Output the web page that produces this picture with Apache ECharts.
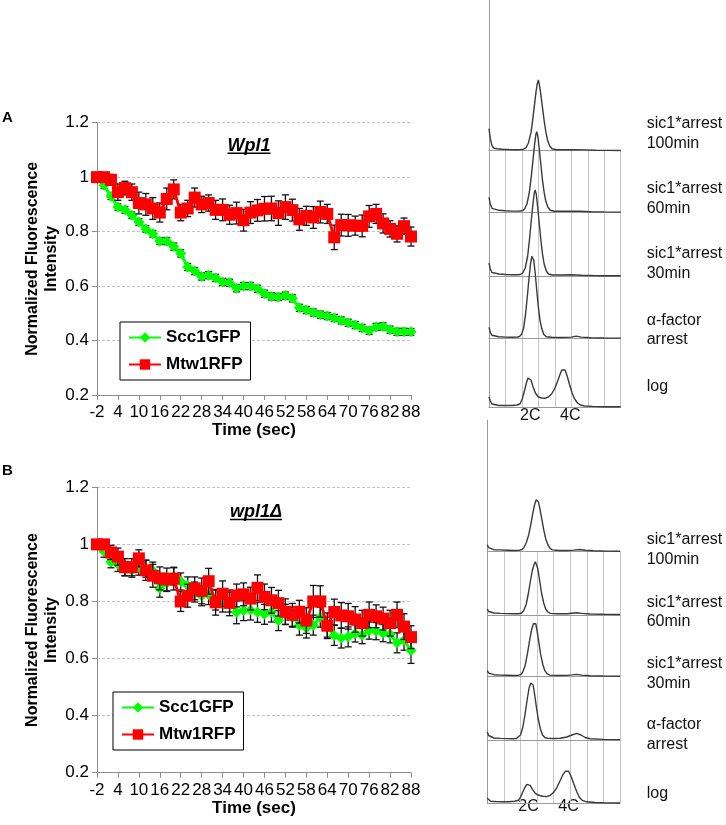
<!DOCTYPE html>
<html><head><meta charset="utf-8">
<script src="https://cdn.jsdelivr.net/npm/echarts@6/dist/echarts.min.js"></script>
<style>html,body{margin:0;padding:0;background:#fff}#c{width:726px;height:825px}</style>
</head><body><div id="c"></div>
<script>
const FONT = "'Liberation Sans', Arial, sans-serif";

// ---- time course data ----
const times = [-2,0,2,4,6,8,10,12,14,16,18,20,22,24,26,28,30,32,34,36,38,40,42,44,46,48,50,52,54,56,58,60,62,64,66,68,70,72,74,76,78,80,82,84,86,88];
const yTicks = {min:0.2, max:1.2, step:0.2};
const seriesNames = ['Scc1GFP','Mtw1RFP'];

const A_gfp = [1.0,0.97,0.93,0.89,0.88,0.86,0.835,0.81,0.792,0.765, 0.765,0.745,0.72,0.67,0.655,0.635,0.64,0.63,0.615,0.612, 0.592,0.6,0.6,0.59,0.572,0.562,0.56,0.565,0.555,0.52, 0.512,0.503,0.495,0.49,0.483,0.474,0.465,0.457,0.446,0.436, 0.45,0.452,0.44,0.432,0.432,0.432];
const A_gfp_err = [0.005,0.012,0.012,0.012,0.012,0.012,0.012,0.012,0.012,0.012, 0.013,0.013,0.013,0.013,0.013,0.013,0.013,0.013,0.013,0.013, 0.013,0.013,0.013,0.013,0.013,0.013,0.013,0.013,0.013,0.013, 0.013,0.013,0.013,0.013,0.013,0.013,0.013,0.013,0.013,0.013, 0.013,0.013,0.013,0.013,0.013,0.012];
const A_rfp = [1.0,1.0,0.99,0.945,0.96,0.945,0.905,0.9,0.885,0.87, 0.92,0.955,0.87,0.885,0.925,0.9,0.905,0.88,0.88,0.862, 0.868,0.842,0.87,0.878,0.884,0.885,0.868,0.89,0.879,0.845, 0.858,0.852,0.872,0.865,0.779,0.824,0.823,0.822,0.821,0.856, 0.865,0.83,0.81,0.792,0.82,0.782];
const A_rfp_err = [0.01,0.015,0.02,0.03,0.025,0.03,0.04,0.04,0.04,0.035, 0.04,0.035,0.03,0.03,0.035,0.03,0.03,0.035,0.04,0.035, 0.04,0.04,0.04,0.04,0.045,0.045,0.045,0.045,0.04,0.04, 0.035,0.04,0.04,0.035,0.045,0.04,0.04,0.035,0.04,0.04, 0.035,0.035,0.03,0.03,0.03,0.035];

const B_gfp = [1.0,0.975,0.938,0.93,0.915,0.91,0.922,0.915,0.908,0.845, 0.865,0.888,0.87,0.856,0.833,0.82,0.824,0.805,0.798,0.798, 0.762,0.768,0.77,0.762,0.755,0.763,0.733,0.755,0.745,0.717, 0.707,0.717,0.745,0.71,0.681,0.672,0.676,0.688,0.682,0.698, 0.696,0.689,0.685,0.655,0.664,0.628];
const B_gfp_err = [0.01,0.02,0.02,0.025,0.025,0.025,0.03,0.03,0.03,0.03, 0.03,0.03,0.03,0.03,0.035,0.035,0.035,0.035,0.035,0.035, 0.04,0.035,0.035,0.035,0.035,0.035,0.035,0.035,0.035,0.035, 0.035,0.035,0.035,0.035,0.035,0.035,0.035,0.03,0.03,0.03, 0.03,0.03,0.03,0.035,0.035,0.045];
const B_rfp = [1.0,1.0,0.972,0.957,0.92,0.92,0.951,0.909,0.89,0.881, 0.877,0.88,0.8,0.82,0.846,0.837,0.871,0.797,0.827,0.795, 0.821,0.825,0.81,0.848,0.816,0.804,0.794,0.764,0.753,0.764, 0.733,0.8,0.8,0.715,0.763,0.751,0.748,0.737,0.724,0.753, 0.748,0.74,0.724,0.753,0.712,0.675];
const B_rfp_err = [0.01,0.015,0.025,0.03,0.03,0.03,0.03,0.035,0.04,0.04, 0.04,0.04,0.035,0.04,0.04,0.045,0.045,0.045,0.045,0.045, 0.04,0.04,0.04,0.045,0.045,0.045,0.045,0.045,0.04,0.04, 0.045,0.056,0.055,0.045,0.045,0.045,0.045,0.045,0.045,0.045, 0.04,0.04,0.045,0.045,0.045,0.04];

// ---- flow cytometry histograms: [channel (grid columns), count height] ----
const histLabels = ['sic1*arrest\n100min','sic1*arrest\n60min','sic1*arrest\n30min','\u03b1-factor\narrest','log'];
const peakLabels = ['2C','4C'];
const HA_100 = [[0,22],[0.08,12],[0.18,5],[0.3,2.5],[0.5,2],[0.8,1.5],[1.2,1.2],[1.6,1],[1.9,1.2],[2.1,1.5],[2.25,3],[2.4,8],[2.55,18],[2.65,30],[2.75,44],[2.85,58],[2.93,67],[3.0,70.7],[3.07,65],[3.15,56],[3.25,43],[3.35,30],[3.45,19],[3.55,11],[3.68,5],[3.82,2],[4.1,1],[4.6,1],[5.2,1],[5.8,0.8],[6.5,0.5],[7.2,0.3],[8,0.2]];
const HA_60 = [[0,15],[0.08,8],[0.18,4],[0.3,2.5],[0.6,2],[1,1.5],[1.4,1.2],[1.8,1.2],[2.0,1.5],[2.15,3],[2.3,8],[2.45,20],[2.57,36],[2.67,52],[2.77,68],[2.85,78],[2.9,80.6],[2.97,76],[3.05,64],[3.15,48],[3.25,32],[3.35,20],[3.45,11],[3.58,5],[3.72,2],[3.95,1],[4.5,1],[5.0,1.2],[5.5,1],[6.2,0.6],[7,0.4],[8,0.2]];
const HA_30 = [[0,13],[0.08,7],[0.18,3.5],[0.3,2.5],[0.6,2],[1,1.5],[1.4,1.2],[1.7,1.2],[1.9,1.5],[2.05,3],[2.2,8],[2.35,20],[2.47,38],[2.57,56],[2.67,72],[2.75,83],[2.8,86],[2.87,82],[2.95,70],[3.05,53],[3.15,36],[3.25,22],[3.35,12],[3.48,5],[3.62,2],[3.85,1],[4.4,1],[5.0,1.2],[5.6,0.8],[6.3,0.5],[7,0.3],[8,0.2]];
const HA_alpha = [[0,11],[0.08,6],[0.18,3],[0.3,2],[0.6,1.5],[1,1.2],[1.4,1],[1.7,1.2],[1.85,1.8],[1.98,4],[2.1,10],[2.22,24],[2.33,42],[2.43,60],[2.52,74],[2.6,82],[2.65,83.3],[2.72,78],[2.8,66],[2.9,48],[3.0,31],[3.1,18],[3.2,10],[3.32,4],[3.48,1.5],[3.8,1],[4.4,0.8],[5.0,1.2],[5.3,2.2],[5.6,1.2],[6.2,0.6],[7,0.3],[8,0.2]];
const HA_log = [[0,10],[0.08,6],[0.18,3],[0.3,2],[0.6,1.5],[1,1.5],[1.4,1.5],[1.7,2],[1.88,3],[2.02,8],[2.15,16],[2.27,24],[2.37,29],[2.45,30.3],[2.55,27],[2.68,20],[2.82,14],[3.0,10],[3.2,9],[3.4,8.7],[3.6,10],[3.8,13],[3.98,18],[4.15,25],[4.3,32],[4.42,37],[4.52,38.7],[4.62,37],[4.75,31],[4.9,22],[5.05,14],[5.2,8],[5.38,4],[5.55,2],[5.8,1],[6.3,0.6],[7,0.3],[8,0.2]];
const HB_100 = [[0,7],[0.08,4],[0.2,2.5],[0.4,2],[0.8,1.8],[1.2,1.5],[1.6,1.2],[1.9,1.3],[2.07,2],[2.2,4],[2.35,9],[2.5,17],[2.62,27],[2.74,38],[2.85,47],[2.95,52],[3.01,53.4],[3.08,50],[3.17,43],[3.28,33],[3.4,22],[3.52,13],[3.65,7],[3.78,3.5],[3.92,1.8],[4.3,1.2],[4.8,1.2],[5.2,1.6],[5.59,2.2],[5.9,1.5],[6.4,1],[7,0.7],[8,0.5]];
const HB_60 = [[0,6],[0.08,3.5],[0.2,2.2],[0.4,2],[0.8,1.6],[1.2,1.4],[1.6,1.2],[1.9,1.3],[2.07,2],[2.2,4.5],[2.35,11],[2.48,22],[2.6,34],[2.72,45],[2.83,51],[2.9,53.3],[2.97,52],[3.05,46],[3.15,35],[3.27,22],[3.4,12],[3.52,6],[3.65,3],[3.8,1.6],[4.2,1.2],[4.8,1.3],[5.1,1.8],[5.39,2.2],[5.7,1.6],[6.2,1],[7,0.7],[8,0.5]];
const HB_30 = [[0,6],[0.08,3.5],[0.2,2.2],[0.4,2],[0.8,1.6],[1.2,1.4],[1.6,1.2],[1.85,1.3],[2.0,2],[2.13,4.5],[2.28,11],[2.42,23],[2.55,36],[2.67,47],[2.78,53],[2.85,55],[2.92,53],[3.0,46],[3.1,35],[3.22,22],[3.35,12],[3.47,6],[3.6,3],[3.75,1.6],[4.2,1.2],[4.8,1.3],[5.1,1.8],[5.39,2.3],[5.7,1.6],[6.2,1],[7,0.7],[8,0.5]];
const HB_alpha = [[0,8],[0.08,4.5],[0.2,2.5],[0.4,2],[0.8,1.6],[1.2,1.4],[1.5,1.3],[1.75,1.5],[1.87,2.2],[2.0,5],[2.13,12],[2.27,25],[2.4,40],[2.52,52],[2.62,57],[2.68,58.3],[2.76,55],[2.85,46],[2.95,34],[3.07,21],[3.2,11],[3.33,5],[3.47,2.5],[3.65,1.6],[4.0,1.5],[4.4,1.8],[4.8,3],[5.1,5],[5.39,6.7],[5.65,5],[5.9,2.5],[6.2,1.2],[7,0.6],[8,0.4]];
const HB_log = [[0,5],[0.08,3],[0.2,2],[0.5,1.8],[0.9,1.6],[1.3,1.6],[1.65,2],[1.87,3],[2.0,6],[2.13,11],[2.27,16],[2.38,19],[2.47,20],[2.58,18],[2.72,14],[2.9,10],[3.1,8],[3.35,7],[3.58,6.7],[3.8,8],[4.0,11],[4.2,16],[4.4,23],[4.57,29],[4.7,32],[4.79,33.3],[4.9,32],[5.05,27],[5.2,20],[5.38,12],[5.55,6],[5.72,3],[5.99,1.5],[6.5,0.8],[7,0.5],[8,0.3]];
const histA = [HA_100, HA_60, HA_30, HA_alpha, HA_log];
const histB = [HB_100, HB_60, HB_30, HB_alpha, HB_log];

// ---- layout ----
const chartLayout = [
  {left:97, top:122.7, width:314, height:272.3, letter:'A', letterY:118, title:'Wpl1', titleX:249, titleY:145.7, legendLeft:120, legendTop:322},
  {left:97, top:487.3, width:314, height:285.4, letter:'B', letterY:471, title:'wpl1\u0394', titleX:256, titleY:512, legendLeft:113, legendTop:692}
];
const histLayout = [
  {left:489, width:131.7, base:[150.7,212.3,276,338.3,407], leftTop:0, rightTop:136, labelY:[133,198.3,263.3,329.7,386.7], peakLabelY:416.7},
  {left:487.3, width:132.7, base:[551.7,615,676.7,740,803.3], leftTop:420, rightTop:531.7, labelY:[549.2,611.7,673.3,734.2,793.3], peakLabelY:808}
];

const grid=[], xAxis=[], yAxis=[], series=[], graphic=[], legend=[];

function errSeries(vals, errs, idx, z){
  return {type:'custom', xAxisIndex:idx, yAxisIndex:idx, z:z, silent:true,
    data: vals.map((v,i)=>[i, v-errs[i], v+errs[i]]),
    renderItem(params, api){
      const x = api.value(0);
      const lo = api.coord([x, api.value(1)]);
      const hi = api.coord([x, api.value(2)]);
      const w = 3.5, st = {stroke:'#111', lineWidth:1.3};
      return {type:'group', children:[
        {type:'line', shape:{x1:lo[0],y1:lo[1],x2:hi[0],y2:hi[1]}, style:st},
        {type:'line', shape:{x1:hi[0]-w,y1:hi[1],x2:hi[0]+w,y2:hi[1]}, style:st},
        {type:'line', shape:{x1:lo[0]-w,y1:lo[1],x2:lo[0]+w,y2:lo[1]}, style:st}
      ]};
    }};
}

const measure = (txt, font) => { const c=document.createElement('canvas').getContext('2d'); c.font=font; return c.measureText(txt).width; };

const panelData = [[A_gfp,A_gfp_err,A_rfp,A_rfp_err],[B_gfp,B_gfp_err,B_rfp,B_rfp_err]];
chartLayout.forEach((L, p) => {
  grid.push({left:L.left, top:L.top, width:L.width, height:L.height});
  xAxis.push({type:'category', gridIndex:p, data:times.map(String), boundaryGap:false,
    name:'Time (sec)', nameLocation:'middle', nameGap:27,
    nameTextStyle:{fontFamily:FONT, fontSize:17, fontWeight:'bold', color:'#000'},
    axisLine:{lineStyle:{color:'#8c8c8c', width:1}},
    axisTick:{interval:2, length:5, lineStyle:{color:'#8c8c8c'}},
    axisLabel:{interval:2, margin:9, fontFamily:FONT, fontSize:17, color:'#000'},
    splitLine:{show:false}});
  yAxis.push({type:'value', gridIndex:p, min:yTicks.min, max:yTicks.max, interval:yTicks.step,
    name:'Normalized Fluorescence\nIntensity', nameLocation:'middle', nameGap:29,
    nameTextStyle:{fontFamily:FONT, fontSize:16, fontWeight:'bold', color:'#000', lineHeight:19},
    axisLine:{show:true, lineStyle:{color:'#8c8c8c'}},
    axisTick:{show:true, length:5, lineStyle:{color:'#8c8c8c'}},
    axisLabel:{margin:8, fontFamily:FONT, fontSize:17, color:'#000', formatter:v=>String(+v.toFixed(1))},
    splitLine:{show:true, lineStyle:{color:'#c4c4c4', type:[3,2], width:1}}});
  const [g, ge, r, re] = panelData[p];
  series.push(errSeries(g, ge, p, 2));
  series.push({name:seriesNames[0], type:'line', xAxisIndex:p, yAxisIndex:p, data:g, z:3,
    showSymbol:true, showAllSymbol:true,
    symbol:'diamond', symbolSize:11, lineStyle:{color:'#00ff00', width:3}, itemStyle:{color:'#00ff00'}});
  series.push(errSeries(r, re, p, 4));
  series.push({name:seriesNames[1], type:'line', xAxisIndex:p, yAxisIndex:p, data:r, z:5,
    showSymbol:true, showAllSymbol:true,
    symbol:'rect', symbolSize:12, lineStyle:{color:'#ff0000', width:3}, itemStyle:{color:'#ff0000'}});
  legend.push({left:L.legendLeft, top:L.legendTop, orient:'vertical', data:seriesNames, selectedMode:false,
    borderColor:'#000', borderWidth:1, backgroundColor:'#fff', padding:[7,8,7,8], itemGap:10,
    itemWidth:32, itemHeight:13, textStyle:{fontFamily:FONT, fontSize:17, fontWeight:'bold', color:'#000'}});
  graphic.push({type:'text', left:2, top:L.letterY-8, style:{text:L.letter, font:'bold 15px '+FONT, fill:'#000'}});
  const tfont = 'italic bold 18px '+FONT;
  const tw = measure(L.title, tfont);
  graphic.push({type:'group', x:L.titleX, y:L.titleY, children:[
    {type:'text', style:{text:L.title, font:tfont, fill:'#000', textAlign:'center', textVerticalAlign:'middle'}},
    {type:'line', shape:{x1:-tw/2, y1:7.5, x2:tw/2, y2:7.5}, style:{stroke:'#000', lineWidth:1.6}}
  ]});
});

const histAll = [histA, histB];
histLayout.forEach((H, p) => {
  H.base.forEach((b, k) => {
    const top = k===0 ? H.leftTop : H.base[k-1];
    const h = b - top;
    const gi = grid.length;
    grid.push({left:H.left, top:top, width:H.width, height:h});
    xAxis.push({type:'value', gridIndex:gi, min:0, max:8, interval:1,
      axisLine:{show:true, onZero:false, lineStyle:{color:'#9a9a9a', width:1}}, axisTick:{show:false}, axisLabel:{show:false},
      splitLine:{show:k>0, lineStyle:{color:'#c8c8c8', width:1}}});
    yAxis.push({type:'value', gridIndex:gi, min:0, max:h,
      axisLine:{show:true, lineStyle:{color:'#9a9a9a', width:1}}, axisTick:{show:false}, axisLabel:{show:false}, splitLine:{show:false}});
    series.push({type:'line', xAxisIndex:gi, yAxisIndex:gi, data:histAll[p][k], showSymbol:false, clip:false, silent:true,
      lineStyle:{color:'#3a3a3a', width:1.4}, z:10});
    graphic.push({type:'text', left:646.7, top:H.labelY[k] - (k<4 ? 19 : 9.5),
      style:{text:histLabels[k], font:'16px '+FONT, fill:'#111', lineHeight:19.5}});
  });
  // right edge of the top frame
  const gi = grid.length;
  grid.push({left:H.left, top:H.rightTop, width:H.width, height:H.base[0]-H.rightTop});
  xAxis.push({type:'value', gridIndex:gi, min:0, max:8, show:false});
  yAxis.push({type:'value', gridIndex:gi, min:0, max:1, position:'right',
    axisLine:{show:true, lineStyle:{color:'#9a9a9a', width:1}}, axisTick:{show:false}, axisLabel:{show:false}, splitLine:{show:false}});
  graphic.push({type:'text', left:H.left+31, top:H.peakLabelY-9, style:{text:peakLabels[0], font:'16px '+FONT, fill:'#111'}});
  graphic.push({type:'text', left:H.left+71, top:H.peakLabelY-9, style:{text:peakLabels[1], font:'16px '+FONT, fill:'#111'}});
});

const chart = echarts.init(document.getElementById('c'), null, {renderer:'canvas'});
chart.setOption({animation:false, backgroundColor:'#fff', grid, xAxis, yAxis, series, legend, graphic});
</script></body></html>
